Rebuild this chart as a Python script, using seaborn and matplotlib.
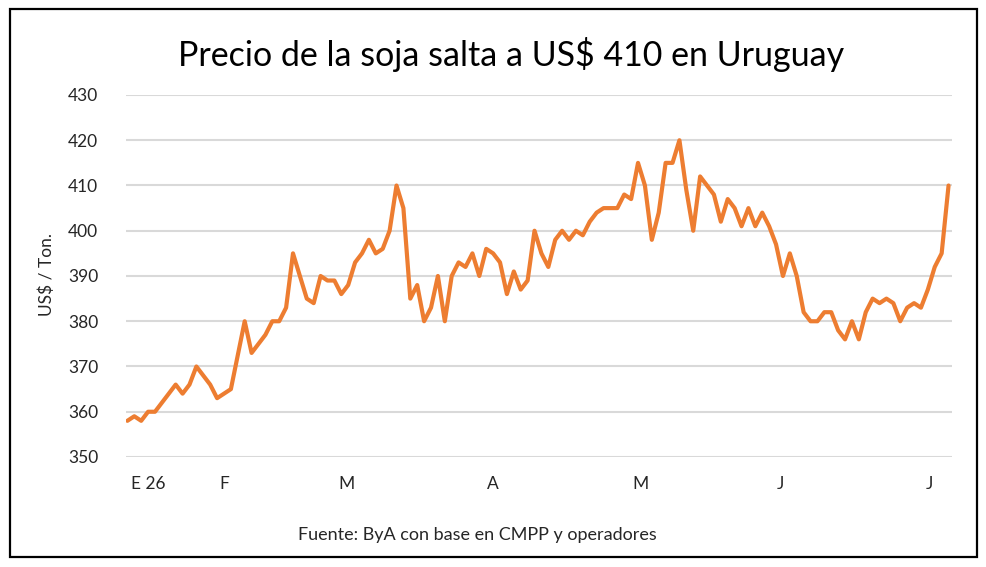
import matplotlib
matplotlib.use("Agg")
import matplotlib.pyplot as plt
import seaborn as sns
import pandas as pd
from matplotlib.patches import Rectangle

# ---- data ----
prices = [358, 359, 358, 360, 360, 362, 364, 366, 364, 366,
          370, 368, 366, 363, 364, 365, 372.5, 380, 373, 375,
          377, 380, 380, 383, 395, 390, 385, 384, 390, 389,
          389, 386, 388, 393, 395, 398, 395, 396, 400, 410,
          405, 385, 388, 380, 383, 390, 380, 390, 393, 392,
          395, 390, 396, 395, 393, 386, 391, 387, 389, 400,
          395, 392, 398, 400, 398, 400, 399, 402, 404, 405,
          405, 405, 408, 407, 415, 410, 398, 404, 415, 415,
          420, 409, 400, 412, 410, 408, 402, 407, 405, 401,
          405, 401, 404, 401, 397, 390, 395, 390, 382, 380,
          380, 382, 382, 378, 376, 380, 376, 382, 385, 384,
          385, 384, 380, 383, 384, 383, 387, 392, 395, 410]
month_labels = ["E 26", "F", "M", "A", "M", "J", "J"]
month_positions = [3, 14, 31.7, 53, 74.3, 94.6, 116.3]
y_ticks = [350, 360, 370, 380, 390, 400, 410, 420, 430]

title = "Precio de la soja salta a US$ 410 en Uruguay"
y_label = "US$ / Ton."
source = "Fuente: ByA con base en CMPP y operadores"

df = pd.DataFrame({"idx": list(range(len(prices))), "precio": prices})

sns.set_theme(style="white")
plt.rcParams["font.family"] = ["Lato", "DejaVu Sans"]

W, H = 987, 567
fig = plt.figure(figsize=(W / 100, H / 100), dpi=100)
fig.patch.set_facecolor("white")

ax = fig.add_axes([126 / W, 1 - 457 / H, (952 - 126) / W, (457 - 95) / H])
ax.set_facecolor("white")

for yv in y_ticks:
    ax.axhline(yv, color="#D9D9D9", lw=1.5, zorder=0)

sns.lineplot(data=df, x="idx", y="precio", ax=ax, color="#ED7D31",
             linewidth=3.0, zorder=3)

ax.set_ylim(350, 430)
ax.set_xlim(-0.2, len(prices) - 0.5)
ax.set_yticks(y_ticks)
ax.set_yticklabels([str(v) for v in y_ticks], fontsize=12.5, color="#262626")
ax.set_xticks(month_positions)
ax.set_xticklabels(month_labels, fontsize=12.5, color="#262626")
ax.tick_params(axis="both", length=0)
ax.tick_params(axis="y", pad=20)
ax.tick_params(axis="x", pad=14)
ax.set_xlabel("")
ax.set_ylabel("")
for s in ax.spines.values():
    s.set_visible(False)

fig.text(47 / W, 1 - 275 / H, y_label, rotation=90, ha="center", va="center",
         fontsize=12.5, color="#262626")
fig.text(511 / W, 1 - 55 / H, title, ha="center", va="center",
         fontsize=24.5, color="black")
fig.text(477 / W, 1 - 535 / H, source, ha="center", va="center",
         fontsize=13, color="#262626")

fig.patches.append(Rectangle((10 / W, 1 - 557 / H), (977 - 10) / W, (557 - 9) / H,
                             transform=fig.transFigure, fill=False,
                             edgecolor="black", linewidth=1.6))

fig.savefig("out.png", dpi=100, facecolor="white")
